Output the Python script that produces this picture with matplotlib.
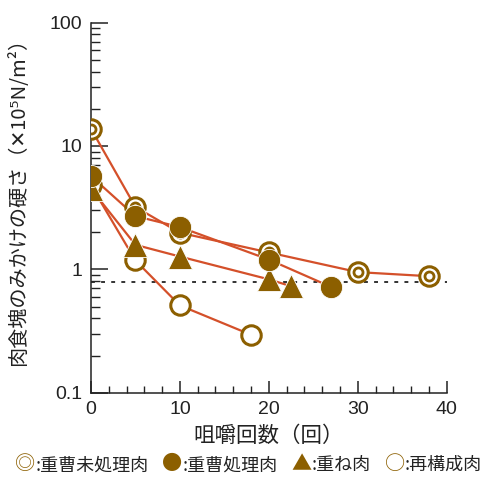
import numpy as np
import matplotlib.pyplot as plt
from matplotlib.ticker import FixedLocator, NullFormatter
from matplotlib.offsetbox import TextArea, HPacker, AnchoredOffsetbox

plt.rcParams['font.family'] = ['Liberation Sans', 'Noto Sans CJK JP', 'DejaVu Sans']

# 咀嚼回数ごとの肉食塊のみかけの硬さ (×10^5 N/m^2)
untreated_x = [0, 5, 10, 20, 30, 38]
untreated_y = [13.8, 3.2, 1.98, 1.37, 0.95, 0.88]

treated_x = [0, 5, 10, 20, 27]
treated_y = [5.7, 2.7, 2.2, 1.2, 0.72]

layered_x = [0, 5, 10, 20, 22.5]
layered_y = [4.5, 1.58, 1.27, 0.83, 0.73]

restructured_x = [0, 5, 10, 18]
restructured_y = [4.8, 1.18, 0.51, 0.295]

threshold = 0.79

legend_marks = ['◎', '●', '▲', '○']
legend_names = [':重曹未処理肉', ':重曹処理肉', ':重ね肉', ':再構成肉']

line_color = '#d4502a'
mark_color = '#8c5f00'
text_color = '#222222'
cjk = ['Noto Sans CJK JP', 'DejaVu Sans']

fig = plt.figure(figsize=(4.97, 4.79), dpi=100)
ax = fig.add_axes([0.183, 0.18, 0.716, 0.773])

ax.plot([0, 40], [threshold, threshold], color='#333333', lw=1.4,
        linestyle=(0, (2, 3.2)), zorder=1)

lw = 1.6
ax.plot(untreated_x, untreated_y, color=line_color, lw=lw, zorder=2)
ax.plot(treated_x, treated_y, color=line_color, lw=lw, zorder=2)
ax.plot(layered_x, layered_y, color=line_color, lw=lw, zorder=2)
ax.plot(restructured_x, restructured_y, color=line_color, lw=lw, zorder=2)

# 再構成肉: 白抜き丸
ax.plot(restructured_x, restructured_y, 'o', ms=14, mfc='white',
        mec=mark_color, mew=2.2, ls='none', zorder=3)
# 重曹未処理肉: 二重丸
ax.plot(untreated_x, untreated_y, 'o', ms=14, mfc='white',
        mec=mark_color, mew=2.2, ls='none', zorder=4)
ax.plot(untreated_x, untreated_y, 'o', ms=6.5, mfc='white',
        mec=mark_color, mew=2.0, ls='none', zorder=4)
# 重ね肉: 三角
ax.plot(layered_x, layered_y, '^', ms=17, color=mark_color,
        mec='white', mew=0.6, ls='none', zorder=5)
# 重曹処理肉: 黒丸
ax.plot(treated_x, treated_y, 'o', ms=16, color=mark_color,
        mec='white', mew=0.6, ls='none', zorder=6)

ax.set_yscale('log')
ax.set_xlim(0, 40)
ax.set_ylim(0.1, 100)

ax.spines['top'].set_visible(False)
ax.spines['right'].set_visible(False)
for s in ('left', 'bottom'):
    ax.spines[s].set_linewidth(1.1)
    ax.spines[s].set_color(text_color)

ax.set_xticks([0, 10, 20, 30, 40])
ax.xaxis.set_minor_locator(FixedLocator(np.arange(0, 41, 2)))
ax.set_yticks([0.1, 1, 10, 100])
ax.set_yticklabels(['0.1', '1', '10', '100'])
ax.yaxis.set_minor_formatter(NullFormatter())

ax.tick_params(axis='both', which='both', direction='in', color=text_color,
               labelsize=14, labelcolor=text_color)
ax.tick_params(axis='x', which='major', length=8.5, width=1.1, pad=6)
ax.tick_params(axis='x', which='minor', length=5, width=1.0)
ax.tick_params(axis='y', which='major', length=12.5, width=1.1, pad=6)
ax.tick_params(axis='y', which='minor', length=6.5, width=1.0)

ax.set_xlabel('咀嚼回数（回）', fontsize=15.5, color=text_color, labelpad=5,
              family=cjk)
ax.set_ylabel('肉食塊のみかけの硬さ（✕10⁵N/m²）', fontsize=14.5,
              color=text_color, family=cjk)
ax.yaxis.set_label_coords(-0.175, 0.53)

# 凡例: 記号は茶色、説明は黒
parts = []
for mark, name in zip(legend_marks, legend_names):
    parts.append(HPacker(children=[
        TextArea(mark, textprops=dict(color=mark_color, fontsize=14.5, family=cjk)),
        TextArea(name, textprops=dict(color=text_color, fontsize=13, family=cjk)),
    ], sep=0, align='baseline'))
legend_row = HPacker(children=parts, sep=10, align='baseline')
box = AnchoredOffsetbox(loc='lower center', child=legend_row, pad=0,
                        borderpad=0, frameon=False,
                        bbox_to_anchor=(0.5, 0.008),
                        bbox_transform=fig.transFigure)
fig.add_artist(box)

fig.savefig('out.png', dpi=100)
